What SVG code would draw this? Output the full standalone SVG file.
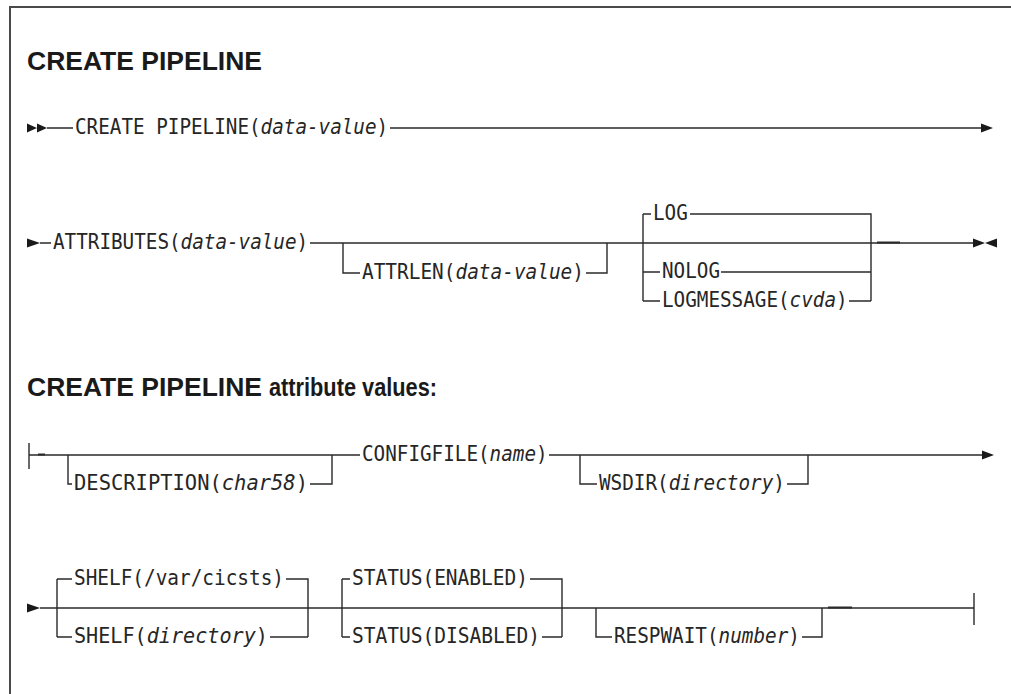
<svg xmlns="http://www.w3.org/2000/svg" width="1011" height="694" viewBox="0 0 1011 694">
<style>
.frame{fill:none;stroke:#4a4a4a;stroke-width:2}
.ln{fill:none;stroke:#2a2a2a;stroke-width:1.4}
.dash{fill:none;stroke:#2a2a2a;stroke-width:2}
.ah{fill:#1a1a1a}
.t{font-family:"DejaVu Sans Mono","Liberation Mono",monospace;font-size:21.5px;fill:#262626}
.i{font-style:italic}
.h{font-family:"Liberation Sans",Arial,sans-serif;font-weight:bold;font-size:25px;fill:#1a1a1a}
</style>
<rect width="1011" height="694" fill="#fff"/>
<path class="frame" d="M10 694 V7 H1011"/>
<g id="title1"><text class="h" x="27" y="70" textLength="235" lengthAdjust="spacingAndGlyphs">CREATE PIPELINE</text></g>
<g id="title2"><text class="h" y="396"><tspan x="27" textLength="235" lengthAdjust="spacingAndGlyphs">CREATE PIPELINE</tspan><tspan x="269" textLength="168" lengthAdjust="spacingAndGlyphs">attribute values:</tspan></text></g>

<g id="create"><text class="t" x="75" y="134" textLength="313.2" lengthAdjust="spacingAndGlyphs">CREATE PIPELINE(<tspan class="i">data-value</tspan>)</text></g>
<g id="attributes"><text class="t" x="53" y="249" textLength="255.2" lengthAdjust="spacingAndGlyphs">ATTRIBUTES(<tspan class="i">data-value</tspan>)</text></g>
<g id="attrlen"><text class="t" x="362" y="279" textLength="222" lengthAdjust="spacingAndGlyphs">ATTRLEN(<tspan class="i">data-value</tspan>)</text></g>
<g id="log"><text class="t" x="653" y="220" textLength="34.8" lengthAdjust="spacingAndGlyphs">LOG</text></g>
<g id="nolog"><text class="t" x="662" y="278" textLength="58" lengthAdjust="spacingAndGlyphs">NOLOG</text></g>
<g id="logmessage"><text class="t" x="662" y="307" textLength="185.6" lengthAdjust="spacingAndGlyphs">LOGMESSAGE(<tspan class="i">cvda</tspan>)</text></g>
<g id="description"><text class="t" x="74" y="490" textLength="234" lengthAdjust="spacingAndGlyphs">DESCRIPTION(<tspan class="i">char58</tspan>)</text></g>
<g id="configfile"><text class="t" x="362" y="461" textLength="185.6" lengthAdjust="spacingAndGlyphs">CONFIGFILE(<tspan class="i">name</tspan>)</text></g>
<g id="wsdir"><text class="t" x="599" y="490" textLength="186" lengthAdjust="spacingAndGlyphs">WSDIR(<tspan class="i">directory</tspan>)</text></g>
<g id="shelf-default"><text class="t" x="74" y="585" textLength="210" lengthAdjust="spacingAndGlyphs">SHELF(/var/cicsts)</text></g>
<g id="shelf"><text class="t" x="74" y="643" textLength="194" lengthAdjust="spacingAndGlyphs">SHELF(<tspan class="i">directory</tspan>)</text></g>
<g id="status-enabled"><text class="t" x="352" y="585" textLength="176" lengthAdjust="spacingAndGlyphs">STATUS(ENABLED)</text></g>
<g id="status-disabled"><text class="t" x="352" y="643" textLength="188" lengthAdjust="spacingAndGlyphs">STATUS(DISABLED)</text></g>
<g id="respwait"><text class="t" x="614" y="643" textLength="186" lengthAdjust="spacingAndGlyphs">RESPWAIT(<tspan class="i">number</tspan>)</text></g>

<g id="connectors">
<!-- row 1 -->
<path class="ah" d="M27 123.5 L37 128 L27 132.5 Z M37 123.5 L47 128 L37 132.5 Z"/>
<path class="ln" d="M47 128 H73 M390 128 H982"/>
<path class="ah" d="M981 123.5 L993 128 L981 132.5 Z"/>
<!-- row 2 -->
<path class="ah" d="M27 238.5 L40 243 L27 247.5 Z"/>
<path class="ln" d="M40 243 H51 M310 243 H973"/>
<path class="ln" d="M343 243 V273 H360 M586 273 H607 V243"/>
<path class="ln" d="M643 214 V301 M643 214 H651 M690 214 H871 V301 M643 272 H660 M721 272 H871 M643 301 H660 M849 301 H871"/>
<path class="dash" d="M877 242.5 H900"/>
<path class="ah" d="M973 238.5 L985 243 L973 247.5 Z M997 238.5 L985 243 L997 247.5 Z"/>
<!-- row 3 -->
<path class="ln" d="M29 443 V469 M29 455 H360"/>
<path class="dash" d="M38 454.5 H45"/>
<path class="ln" d="M68 455 V484 H72 M310 484 H332 V455"/>
<path class="ln" d="M549 455 H983"/>
<path class="ln" d="M580 455 V484 H597 M787 484 H808 V455"/>
<path class="ah" d="M982 450.5 L994 455 L982 459.5 Z"/>
<!-- row 4 -->
<path class="ah" d="M27 603.5 L40 608 L27 612.5 Z"/>
<path class="ln" d="M40 608 H974"/>
<path class="ln" d="M57 579 V637 M57 579 H72 M286 579 H308 V637 M57 637 H72 M270 637 H308"/>
<path class="ln" d="M342 579 V637 M342 579 H350 M530 579 H562 V637 M342 637 H350 M542 637 H562"/>
<path class="ln" d="M596 608 V637 H612 M802 637 H822 V608"/>
<path class="dash" d="M828 607.5 H852"/>
<path class="ln" d="M974 593 V625"/>
</g>
</svg>
